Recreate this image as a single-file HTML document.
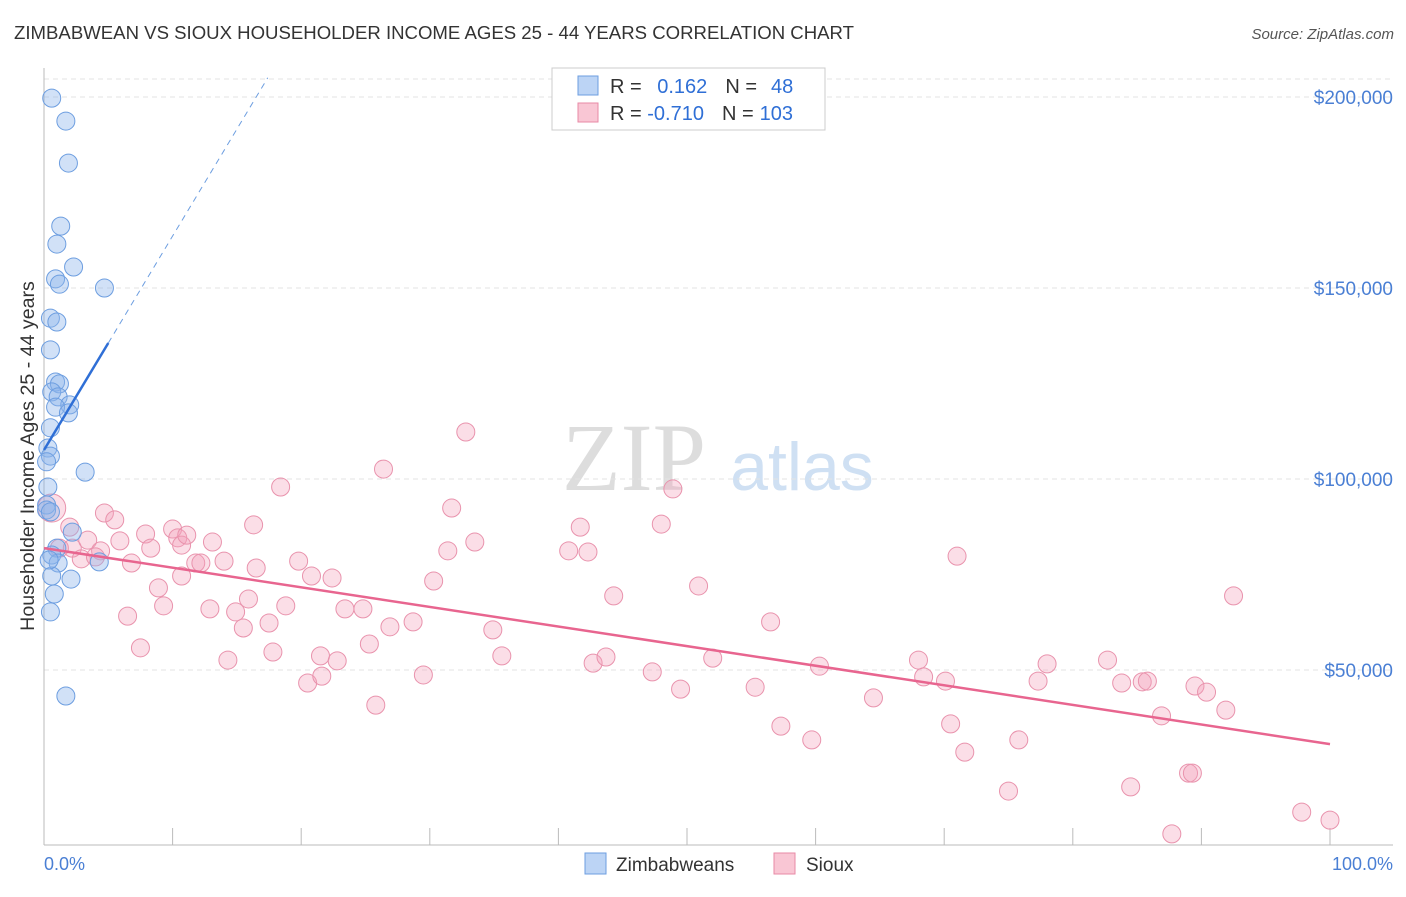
<!DOCTYPE html>
<html><head><meta charset="utf-8"><style>
body{margin:0;background:#fff;font-family:"Liberation Sans",sans-serif}
</style></head><body>
<svg id="chart" width="1406" height="892" xmlns="http://www.w3.org/2000/svg" font-family="Liberation Sans, sans-serif">
<text x="14" y="39" font-size="18.6" fill="#333">ZIMBABWEAN VS SIOUX HOUSEHOLDER INCOME AGES 25 - 44 YEARS CORRELATION CHART</text>
<text x="1394" y="39" font-size="15" fill="#555" text-anchor="end" font-style="italic">Source: ZipAtlas.com</text>
<g><text x="634" y="490" font-size="96" fill="#ddd" text-anchor="middle" font-family="Liberation Serif, serif">ZIP</text><text x="802" y="490" font-size="68" fill="#cfe0f3" text-anchor="middle">atlas</text></g>
<g id="grid"></g><g id="axes"></g><g id="pts"></g><g id="lines"></g>
<text transform="translate(34,456) rotate(-90)" font-size="19.6" fill="#333" text-anchor="middle">Householder Income Ages 25 - 44 years</text>
<text x="44" y="870" font-size="18" fill="#4a7fd4">0.0%</text>
<text x="1393" y="870" font-size="18" fill="#4a7fd4" text-anchor="end">100.0%</text>
<g>
<rect x="552" y="68" width="273" height="62" fill="#fff" stroke="#ccc"/>
<rect x="578" y="76" width="20" height="19" fill="#bcd4f5" stroke="#6d9ee0"/>
<rect x="578" y="103" width="20" height="19" fill="#f9c6d4" stroke="#e88aa6"/>
<text x="610" y="93" font-size="20" fill="#333">R = <tspan fill="#2f6fd6" dx="10">0.162</tspan><tspan dx="18" fill="#333">N =</tspan><tspan dx="14" fill="#2f6fd6">48</tspan></text>
<text x="610" y="120" font-size="20" fill="#333">R = <tspan fill="#2f6fd6">-0.710</tspan><tspan dx="18" fill="#333">N =</tspan><tspan dx="6" fill="#2f6fd6">103</tspan></text>
</g>
<g>
<rect x="585" y="853" width="21" height="21" fill="#bcd4f5" stroke="#6d9ee0"/>
<text x="616" y="871" font-size="19" fill="#333">Zimbabweans</text>
<rect x="774" y="853" width="21" height="21" fill="#f9c6d4" stroke="#e88aa6"/>
<text x="806" y="871" font-size="19" fill="#333">Sioux</text>
</g>
</svg>
<script>
const yTicks=[50,100,150,200];
const yTickLabels=["$50,000","$100,000","$150,000","$200,000"];
const blueX=[0.6,1.7,1.9,1.3,1.0,2.3,0.9,1.2,4.7,0.5,1.0,0.5,0.9,1.2,0.6,1.1,2.0,0.9,1.9,0.5,0.3,0.5,0.2,3.2,0.3,0.2,0.2,0.5,2.2,1.0,0.6,1.1,4.3,0.6,2.1,0.8,0.5,1.7,0.4];
const blueY=[199.7,193.7,182.7,166.2,161.5,155.5,152.4,151,150,142.1,141.1,133.8,125.4,124.9,122.8,121.5,119.4,118.8,117.3,113.4,108.1,106,104.5,101.8,97.9,93.2,91.9,91.4,86.1,81.9,80.1,78,78.3,74.6,73.8,69.9,65.2,43.2,78.8];
const pinkX=[0.6,2.0,1.2,2.2,3.4,4.4,2.9,4.0,4.7,5.5,5.9,6.8,7.9,8.3,10.0,10.4,10.7,11.8,13.1,12.2,14.0,11.1,8.9,9.3,10.7,6.5,7.5,12.9,14.3,14.9,15.5,15.9,16.5,16.3,17.5,17.8,18.4,18.8,19.8,20.8,20.5,21.5,21.6,22.8,22.4,23.4,24.8,25.3,25.8,26.4,26.9,28.7,29.5,30.3,31.4,31.7,32.8,33.5,34.9,35.6,41.7,40.8,42.3,42.7,43.7,44.3,47.3,48.0,48.9,49.5,50.9,52.0,55.3,56.5,57.3,59.7,60.3,64.5,68.0,68.4,70.1,70.5,71.0,71.6,75.0,75.8,77.3,78.0,82.7,83.8,85.4,85.8,84.5,86.9,87.7,89.0,89.3,89.5,90.4,91.9,92.5,97.8,100];
const pinkY=[92.4,87.4,81.9,81.9,84.0,81.2,79.1,79.6,91.1,89.3,83.8,78.0,85.6,81.9,86.9,84.6,82.7,78.0,83.5,78.0,78.5,85.3,71.5,66.8,74.6,64.1,55.8,66.0,52.6,65.2,61.0,68.6,76.7,88.0,62.3,54.7,97.9,66.8,78.5,74.6,46.6,53.7,48.4,52.4,74.1,66.0,66.0,56.8,40.8,102.6,61.3,62.6,48.7,73.3,81.2,92.4,112.3,83.5,60.5,53.7,87.4,81.2,80.9,51.8,53.4,69.4,49.5,88.2,97.4,45.0,72.0,53.1,45.5,62.6,35.3,31.7,51.0,42.7,52.6,48.2,47.1,35.9,79.8,28.5,18.3,31.7,47.1,51.6,52.6,46.6,46.9,47.1,19.4,38.0,7.1,23.0,23.0,45.8,44.2,39.5,69.4,12.8,10.7];
const blueFit=[107.6,5.6]; const blueSolidEnd=5.0, blueDashEnd=17.4;
const pinkFit=[81.9,-0.513];
const X=v=>44+v*12.86, Y=v=>861-v*3.82;
const NS="http://www.w3.org/2000/svg";
function mk(p,t,a){const e=document.createElementNS(NS,t);for(const k in a)e.setAttribute(k,a[k]);p.appendChild(e);return e;}
const grid=document.getElementById('grid'),axes=document.getElementById('axes'),pts=document.getElementById('pts'),lines=document.getElementById('lines');
let tl=mk(grid,'line',{x1:44,x2:1393,y1:79,y2:79,stroke:'#e3e3e3','stroke-dasharray':'5,4'});

yTicks.forEach((t,i)=>{
 const g=mk(grid,'line',{x1:44,x2:1393,y1:Y(t),y2:Y(t),stroke:'#e3e3e3','stroke-dasharray':'5,4'});
 
 const tx=mk(grid,'text',{x:1393,y:Y(t)+7,'font-size':19,fill:'#4a7fd4','text-anchor':'end'});tx.textContent=yTickLabels[i];
 
});
let ax=mk(axes,'line',{x1:44,x2:44,y1:68,y2:845,stroke:'#bbb'});

ax=mk(axes,'line',{x1:44,x2:1393,y1:845,y2:845,stroke:'#bbb'});

for(let i=1;i<=10;i++){const t=mk(axes,'line',{x1:X(i*10),x2:X(i*10),y1:828,y2:845,stroke:'#bbb'});
 }
pinkX.forEach((x,i)=>{const c=mk(pts,'circle',{cx:X(x),cy:Y(pinkY[i]),r:i==0?14:9,fill:'rgba(244,160,186,0.35)',stroke:'#e993ad','stroke-width':1});
 });
blueX.forEach((x,i)=>{const c=mk(pts,'circle',{cx:X(x),cy:Y(blueY[i]),r:9,fill:'rgba(140,180,235,0.4)',stroke:'#6d9ee0','stroke-width':1});
 });
const bf=x=>blueFit[0]+blueFit[1]*x, pf=x=>pinkFit[0]+pinkFit[1]*x;
let l=mk(lines,'line',{x1:X(0),y1:Y(bf(0)),x2:X(blueSolidEnd),y2:Y(bf(blueSolidEnd)),stroke:'#2f6fd6','stroke-width':2.5});

l=mk(lines,'line',{x1:X(blueSolidEnd),y1:Y(bf(blueSolidEnd)),x2:X(blueDashEnd),y2:Y(bf(blueDashEnd)),stroke:'#6d9ee0','stroke-width':1,'stroke-dasharray':'6,5'});

l=mk(lines,'line',{x1:X(0),y1:Y(pf(0)),x2:X(100),y2:Y(pf(100)),stroke:'#e8658f','stroke-width':2.5});

</script>
</body></html>
